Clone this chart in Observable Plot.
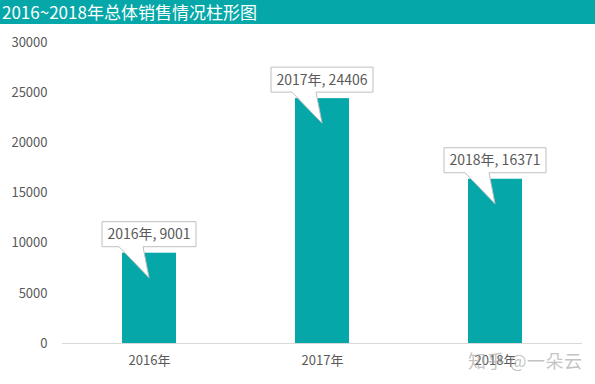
<!DOCTYPE html>
<html>
<head>
<meta charset="utf-8">
<script src="https://cdn.jsdelivr.net/npm/d3@7"></script>
<script src="https://cdn.jsdelivr.net/npm/@observablehq/plot@0.6"></script>
<style>
  html, body { margin: 0; padding: 0; background: #fff; }
  body { width: 595px; height: 384px; position: relative; overflow: hidden;
         font-family: "Noto Sans CJK SC", "Noto Sans", sans-serif; }
  #title { height: 24px; line-height: 24px; background: #05A7A8; color: #fff;
           font-size: 17px; padding-left: 2px; white-space: nowrap; }
  #wm { position: absolute; left: 468px; top: 347px; font-size: 18px; color: rgba(170,170,170,0.7);
        white-space: nowrap; letter-spacing: 0.5px; }
</style>
</head>
<body>
<div id="title">2016~2018年总体销售情况柱形图</div>
<div id="chart"></div>
<div id="wm">知乎 @一朵云</div>
<script>
const years = ["2016年", "2017年", "2018年"];
const sales = [9001, 24406, 16371];
const yTicks = [0, 5000, 10000, 15000, 20000, 25000, 30000];

const data = years.map((y, i) => ({year: y, value: sales[i]}));
const barColor = "#05A7A8";
const labelFont = '14px "Noto Sans CJK SC", "Noto Sans", sans-serif';

const ctx = document.createElement("canvas").getContext("2d");
ctx.font = labelFont;

function callouts(index, scales) {
  const x = scales.x, y = scales.y;
  const g = d3.create("svg:g");
  for (const d of data) {
    const label = `${d.year}, ${d.value}`;
    const cx = x(d.year) + x.bandwidth() / 2;
    const top = y(d.value);
    const w = Math.round(ctx.measureText(label).width) + 11;
    const h = 25;
    const bottom = top - 6;
    const left = cx - w / 2, right = cx + w / 2, boxTop = bottom - h;
    const tip = top + 25;
    const path = `M${left},${boxTop}H${right}V${bottom}H${cx - 6}L${cx},${tip}L${cx - 30},${bottom}H${left}Z`;
    g.append("path").attr("d", path).attr("fill", "#fff").attr("stroke", "#bfbfbf").attr("stroke-width", 1);
    g.append("text").attr("x", cx).attr("y", boxTop + h / 2).attr("dy", "0.36em")
      .attr("text-anchor", "middle").attr("fill", "#595959")
      .style("font", labelFont).text(label);
  }
  return g.node();
}

const chart = Plot.plot({
  width: 595,
  height: 360,
  marginTop: 18,
  marginBottom: 41,
  marginLeft: 62,
  marginRight: 13,
  style: {fontFamily: '"Noto Sans CJK SC", "Noto Sans", sans-serif', fontSize: "13px", color: "#595959", background: "#fff"},
  x: {domain: years, label: null, paddingInner: 0.688, paddingOuter: 0.344, tickSize: 0, tickPadding: 12},
  y: {domain: [0, 30000], ticks: yTicks, label: null, tickSize: 0, tickPadding: 15, tickFormat: d => String(d)},
  marks: [
    Plot.barY(data, {x: "year", y: "value", fill: barColor}),
    Plot.ruleY([0], {stroke: "#d9d9d9"}),
    callouts
  ]
});
document.getElementById("chart").appendChild(chart);
</script>
</body>
</html>
